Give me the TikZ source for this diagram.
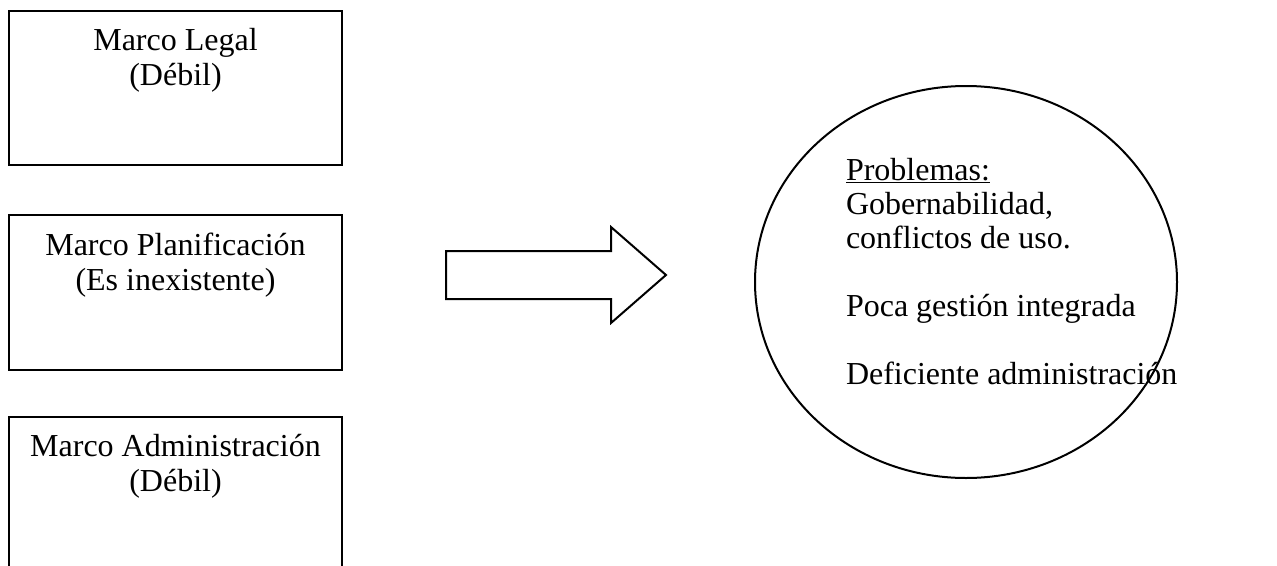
\documentclass[tikz,border=0pt]{standalone}
\usepackage{fontspec}
\setmainfont{Liberation Serif}
\usetikzlibrary{positioning, shapes.geometric}

\tikzset{
  caja/.style={draw, line width=2pt, rectangle, minimum width=333pt, minimum height=155pt, inner sep=0pt, anchor=north west},
  textocaja/.style={align=center, inner sep=0pt, anchor=base, font=\fontsize{32}{35}\selectfont},
}

\begin{document}
\begin{tikzpicture}[x=1pt, y=-1pt, line width=2pt]
    \useasboundingbox (0,0) rectangle (1277,565);
    \clip (0,0) rectangle (1277,565);

    % cajas de la izquierda
    \node[caja, minimum height=154pt] (legal) at (8,10) {};
    \node[caja] (plan) at (8,214) {};
    \node[caja] (admin) at (8,416) {};

    \node[textocaja] (legaltxt) at ([yshift=-75pt]legal.north) {Marco Legal\\(Débil)};
    \node[textocaja] (plantxt) at ([yshift=-76pt]plan.north) {Marco Planificación\\(Es inexistente)};
    \node[textocaja] (admintxt) at ([yshift=-75pt]admin.north) {Marco Administración\\(Débil)};

    % flecha
    \draw (446,251) -- (611,251) -- (611,227) -- (666,275) -- (611,323) -- (611,299) -- (446,299) -- cycle;

    % elipse
    \node[draw, ellipse, minimum width=422pt, minimum height=392pt, inner sep=0pt] (problemas) at (966,282) {};
    \node[anchor=base west, align=left, inner sep=0pt, font=\fontsize{32}{34}\selectfont] (lista) at (845,384)
        {\underline{Problemas:}\\Gobernabilidad,\\conflictos de uso.\\[34pt]Poca gestión integrada\\[34pt]Deficiente administración};
\end{tikzpicture}
\end{document}
